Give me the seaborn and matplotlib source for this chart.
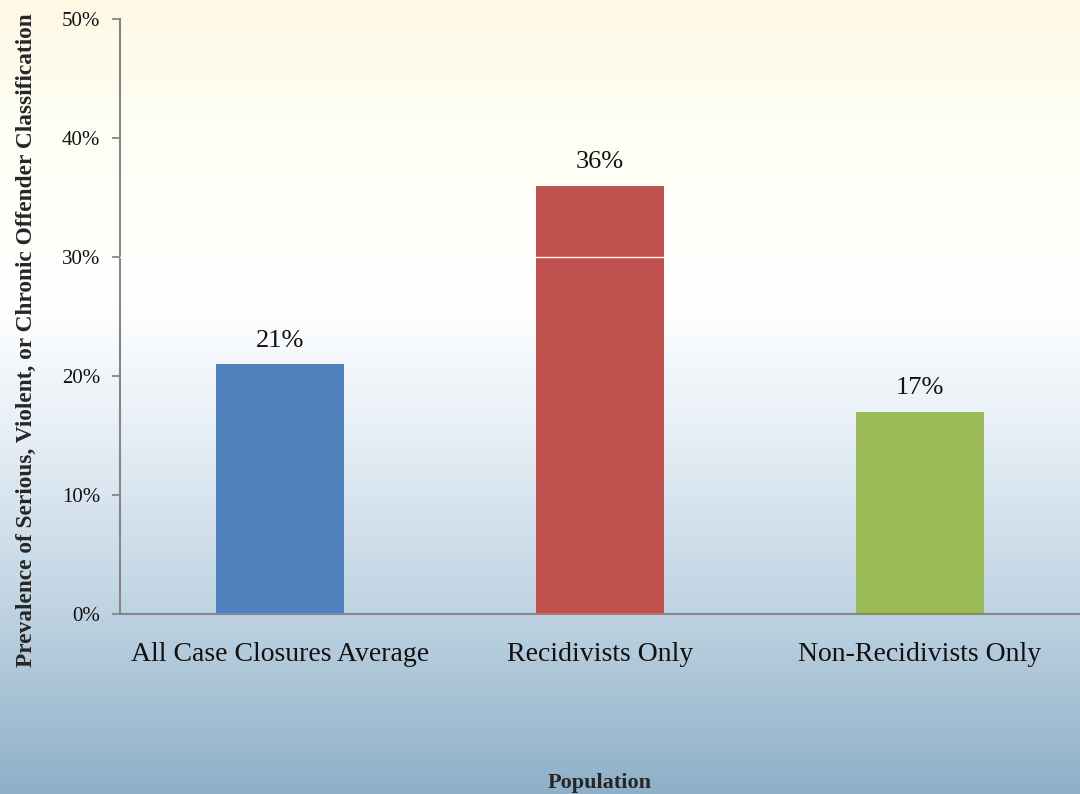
import numpy as np
import pandas as pd
import matplotlib
matplotlib.use('Agg')
import matplotlib.pyplot as plt
from matplotlib.colors import LinearSegmentedColormap
from matplotlib.ticker import PercentFormatter
import seaborn as sns

# Chart data
populations = ['All Case Closures Average', 'Recidivists Only', 'Non-Recidivists Only']
prevalence = [0.21, 0.36, 0.17]
bar_colors = ['#4F81BD', '#C0504D', '#9BBB59']
y_ticks = [0.0, 0.1, 0.2, 0.3, 0.4, 0.5]

sns.set_theme(style='white')
plt.rcParams['font.family'] = ['Liberation Serif', 'DejaVu Serif']

df = pd.DataFrame({'Population': populations, 'Prevalence': prevalence})

fig = plt.figure(figsize=(10.8, 7.94), dpi=100)

# Gradient background: cream at top, white in the middle, steel blue at the bottom
bg = fig.add_axes([0, 0, 1, 1], zorder=0)
grad_cmap = LinearSegmentedColormap.from_list(
    'bg', [(0.0, '#8EB0C8'), (0.25, '#C3D6E4'), (0.45, '#E6EEF6'),
           (0.62, '#FFFFFF'), (0.85, '#FFFEF4'), (1.0, '#FEF8E4')])
bg.imshow(np.linspace(0, 1, 256).reshape(-1, 1), aspect='auto', cmap=grad_cmap,
          origin='lower', extent=[0, 1, 0, 1])
bg.set_axis_off()

ax = fig.add_axes([0.111, 0.2267, 0.889, 0.7493], zorder=1)
ax.set_facecolor('none')

sns.barplot(data=df, x='Population', y='Prevalence', hue='Population',
            palette=bar_colors, width=0.4, saturation=1, legend=False,
            linewidth=0, ax=ax)

# thin white rule at 30% that shows across the tall bar
ax.axhline(0.30, color='white', lw=1, zorder=5)

for i, v in enumerate(prevalence):
    ax.annotate(f'{v:.0%}', (i, v), xytext=(0, 9), textcoords='offset points',
                ha='center', va='bottom', fontsize=19, color='#111111')

ax.set_xlim(-0.5, 2.5)
ax.set_ylim(0, 0.5)
ax.set_yticks(y_ticks)
ax.yaxis.set_major_formatter(PercentFormatter(1.0, decimals=0))

for side in ['top', 'right']:
    ax.spines[side].set_visible(False)
for side in ['left', 'bottom']:
    ax.spines[side].set_color('#868686')
    ax.spines[side].set_linewidth(1.5)

ax.tick_params(axis='y', left=True, length=6, width=1.3, color='#868686',
               labelsize=15, pad=8, labelcolor='#111111')
ax.tick_params(axis='x', bottom=False, labelsize=20, pad=14, labelcolor='#111111')

ax.set_xlabel('Population', fontsize=16, fontweight='bold')
ax.xaxis.label.set_va('center')
ax.xaxis.set_label_coords(0.5, -0.284)
ax.set_ylabel('Prevalence of Serious, Violent, or Chronic Offender Classification',
              fontsize=16.8, fontweight='bold')
ax.yaxis.label.set_va('center')
ax.yaxis.set_label_coords(-0.097, 0.46)

fig.savefig('out.png', dpi=100)
